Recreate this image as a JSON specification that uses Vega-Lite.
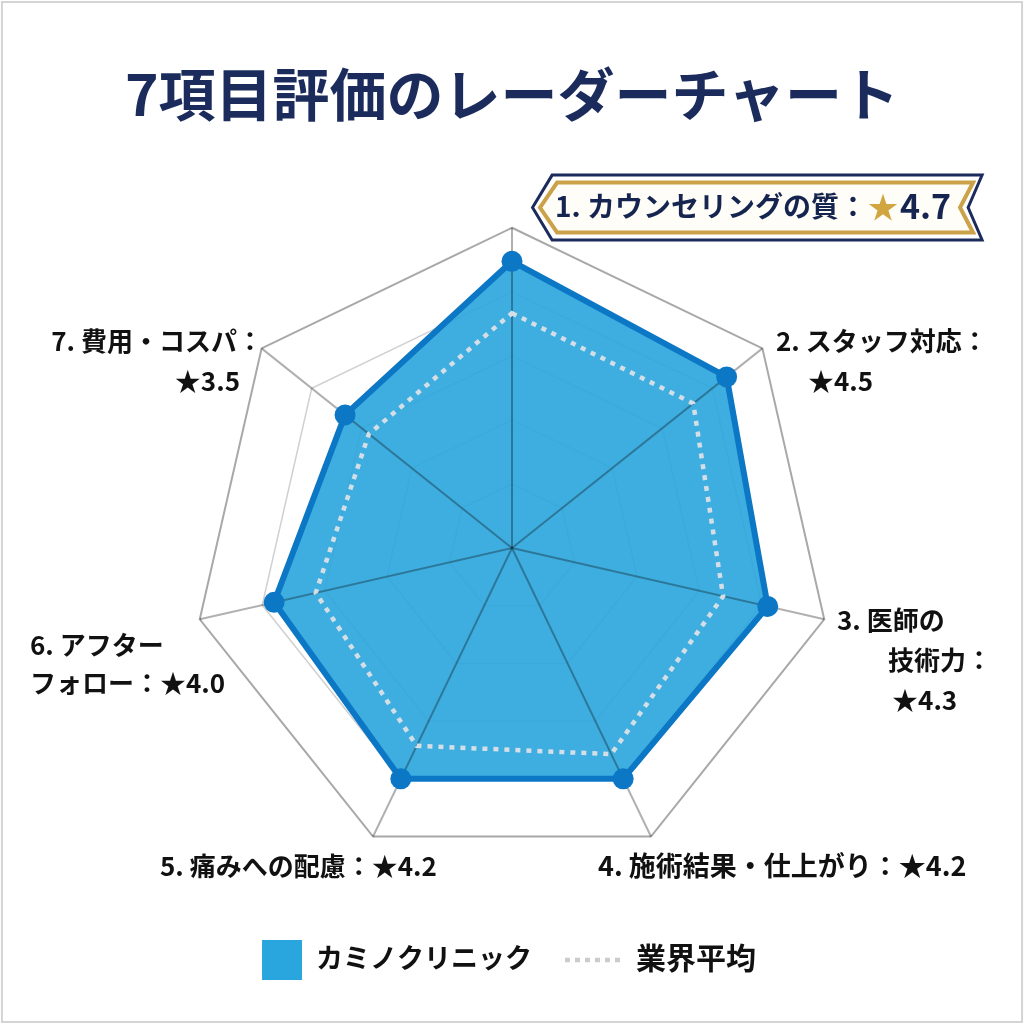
{
  "$schema": "https://vega.github.io/schema/vega-lite/v6.json",
  "width": 1024,
  "height": 1024,
  "autosize": {"type": "fit", "contains": "padding"},
  "padding": 0,
  "background": "white",
  "config": {
    "view": {"stroke": null},
    "axis": {"disable": true},
    "text": {"font": "Noto Sans CJK JP"}
  },
  "datasets": {
    "axes": [
      {"k": 0, "item": "カウンセリングの質", "score": 4.7, "avg": 3.85},
      {"k": 1, "item": "スタッフ対応", "score": 4.5, "avg": 3.8},
      {"k": 2, "item": "医師の技術力", "score": 4.3, "avg": 3.55},
      {"k": 3, "item": "施術結果・仕上がり", "score": 4.2, "avg": 3.75},
      {"k": 4, "item": "痛みへの配慮", "score": 4.2, "avg": 3.6},
      {"k": 5, "item": "アフターフォロー", "score": 4.0, "avg": 3.3},
      {"k": 6, "item": "費用・コスパ", "score": 3.5, "avg": 3.0}
    ],
    "rings": [
      {"level": 1.05, "ks": [0, 1, 2, 3, 4, 5, 6]},
      {"level": 2.1, "ks": [0, 1, 2, 3, 4, 5, 6]},
      {"level": 3.15, "ks": [0, 1, 2, 3, 4, 5, 6]},
      {"level": 4.2, "ks": [0, 1, 2, 3, 4, 5, 6]},
      {"level": 5.25, "ks": [0, 1, 2, 3, 4, 5, 6]}
    ],
    "one": [{"n": 1}]
  },
  "layer": [
    {
      "data": {"name": "one"},
      "mark": {"type": "rect", "fill": "white", "stroke": "#d4d4d4", "strokeWidth": 2},
      "encoding": {
        "x": {"datum": -8.361, "type": "quantitative", "scale": {"domain": [-8.393, 8.393], "nice": false, "zero": false}},
        "x2": {"datum": 8.361},
        "y": {"datum": 8.951, "type": "quantitative", "scale": {"domain": [-7.803, 8.984], "nice": false, "zero": false}},
        "y2": {"datum": -7.77}
      }
    },
    {
      "encoding": {
        "x": {"field": "x", "type": "quantitative"},
        "y": {"field": "y", "type": "quantitative"}
      },
      "layer": [
        {
          "data": {"name": "rings"},
          "transform": [
            {"flatten": ["ks"], "as": ["k"]},
            {"filter": "datum.level < 5"},
            {"calculate": "datum.k * 2 * PI / 7", "as": "t"},
            {"calculate": "datum.level * sin(datum.t)", "as": "x"},
            {"calculate": "datum.level * cos(datum.t)", "as": "y"}
          ],
          "mark": {"type": "line", "interpolate": "linear-closed", "stroke": "#d0d0d0", "strokeWidth": 1.5},
          "encoding": {"detail": {"field": "level"}, "order": {"field": "k"}}
        },
        {
          "data": {"name": "rings"},
          "transform": [
            {"flatten": ["ks"], "as": ["k"]},
            {"filter": "datum.level > 5"},
            {"calculate": "datum.k * 2 * PI / 7", "as": "t"},
            {"calculate": "datum.level * sin(datum.t)", "as": "x"},
            {"calculate": "datum.level * cos(datum.t)", "as": "y"}
          ],
          "mark": {"type": "line", "interpolate": "linear-closed", "stroke": "#a8a8a8", "strokeWidth": 2},
          "encoding": {"order": {"field": "k"}}
        },
        {
          "data": {"name": "axes"},
          "transform": [
            {"calculate": "datum.k * 2 * PI / 7", "as": "t"},
            {"calculate": "datum.score * sin(datum.t)", "as": "x"},
            {"calculate": "datum.score * cos(datum.t)", "as": "y"}
          ],
          "mark": {"type": "line", "interpolate": "linear-closed", "fill": "#29a5dd", "fillOpacity": 0.9, "stroke": "#0b77c5", "strokeWidth": 6, "strokeJoin": "round"},
          "encoding": {"order": {"field": "k"}}
        },
        {
          "data": {"name": "axes"},
          "transform": [
            {"calculate": "datum.k * 2 * PI / 7", "as": "t"},
            {"calculate": "5.25 * sin(datum.t)", "as": "x"},
            {"calculate": "5.25 * cos(datum.t)", "as": "y"}
          ],
          "mark": {"type": "rule", "stroke": "#b0b0b0", "strokeWidth": 2, "blend": "multiply"},
          "encoding": {"x2": {"datum": 0}, "y2": {"datum": 0}}
        },
        {
          "data": {"name": "axes"},
          "transform": [
            {"calculate": "datum.k * 2 * PI / 7", "as": "t"},
            {"calculate": "datum.avg * sin(datum.t)", "as": "x"},
            {"calculate": "datum.avg * cos(datum.t)", "as": "y"}
          ],
          "mark": {"type": "line", "interpolate": "linear-closed", "stroke": "#d4dee6", "strokeWidth": 4.5, "strokeDash": [5, 6]},
          "encoding": {"order": {"field": "k"}}
        },
        {
          "data": {"name": "axes"},
          "transform": [
            {"calculate": "datum.k * 2 * PI / 7", "as": "t"},
            {"calculate": "datum.score * sin(datum.t)", "as": "x"},
            {"calculate": "datum.score * cos(datum.t)", "as": "y"}
          ],
          "mark": {"type": "point", "filled": true, "shape": "circle", "size": 440, "color": "#0b77c5", "opacity": 1}
        }
      ]
    },
    {
      "data": {"name": "one"},
      "mark": {"type": "text", "text": "7項目評価のレーダーチャート", "align": "center", "baseline": "middle", "fontSize": 57, "fontWeight": "bold", "color": "#1b2b5c"},
      "encoding": {"x": {"datum": 0}, "y": {"datum": 7.36}}
    },
    {
      "data": {"name": "one"},
      "mark": {"type": "point", "filled": true, "shape": "M-1,0L-0.913,-0.144L0.998,-0.144L0.936,0L0.998,0.144L-0.913,0.144Z", "size": 202500, "fill": "white", "stroke": "#1b2b5c", "strokeWidth": 3, "opacity": 1},
      "encoding": {"x": {"datum": 4.025}, "y": {"datum": 5.582}}
    },
    {
      "data": {"name": "one"},
      "mark": {"type": "point", "filled": true, "shape": "M-0.967,0L-0.891,-0.111L0.958,-0.111L0.9,0L0.958,0.111L-0.891,0.111Z", "size": 202500, "fill": "#fffdf7", "stroke": "#cba24a", "strokeWidth": 4, "opacity": 1},
      "encoding": {"x": {"datum": 4.025}, "y": {"datum": 5.582}}
    },
    {
      "data": {"name": "one"},
      "mark": {"type": "text", "text": "1. カウンセリングの質：", "align": "right", "baseline": "middle", "fontSize": 28, "fontWeight": "bold", "color": "#15254f"},
      "encoding": {"x": {"datum": 5.82}, "y": {"datum": 5.557}}
    },
    {
      "data": {"name": "one"},
      "mark": {"type": "text", "text": "★", "align": "center", "baseline": "middle", "fontSize": 30, "fontWeight": "bold", "color": "#d1a640"},
      "encoding": {"x": {"datum": 6.082}, "y": {"datum": 5.557}}
    },
    {
      "data": {"name": "one"},
      "mark": {"type": "text", "text": "4.7", "align": "left", "baseline": "middle", "fontSize": 34, "fontWeight": "bold", "color": "#15254f"},
      "encoding": {"x": {"datum": 6.36}, "y": {"datum": 5.557}}
    },
    {
      "data": {"name": "one"},
      "mark": {"type": "text", "text": "2. スタッフ対応：", "align": "left", "baseline": "middle", "fontSize": 26, "fontWeight": "bold", "color": "#111111"},
      "encoding": {"x": {"datum": 4.328}, "y": {"datum": 3.361}}
    },
    {
      "data": {"name": "one"},
      "mark": {"type": "text", "text": "★4.5", "align": "left", "baseline": "middle", "fontSize": 26, "fontWeight": "bold", "color": "#111111"},
      "encoding": {"x": {"datum": 4.852}, "y": {"datum": 2.705}}
    },
    {
      "data": {"name": "one"},
      "mark": {"type": "text", "text": "3. 医師の", "align": "left", "baseline": "middle", "fontSize": 26, "fontWeight": "bold", "color": "#111111"},
      "encoding": {"x": {"datum": 5.328}, "y": {"datum": -1.213}}
    },
    {
      "data": {"name": "one"},
      "mark": {"type": "text", "text": "技術力：", "align": "left", "baseline": "middle", "fontSize": 26, "fontWeight": "bold", "color": "#111111"},
      "encoding": {"x": {"datum": 6.164}, "y": {"datum": -1.869}}
    },
    {
      "data": {"name": "one"},
      "mark": {"type": "text", "text": "★4.3", "align": "left", "baseline": "middle", "fontSize": 26, "fontWeight": "bold", "color": "#111111"},
      "encoding": {"x": {"datum": 6.23}, "y": {"datum": -2.525}}
    },
    {
      "data": {"name": "one"},
      "mark": {"type": "text", "text": "4. 施術結果・仕上がり：★4.2", "align": "left", "baseline": "middle", "fontSize": 27, "fontWeight": "bold", "color": "#111111"},
      "encoding": {"x": {"datum": 1.41}, "y": {"datum": -5.246}}
    },
    {
      "data": {"name": "one"},
      "mark": {"type": "text", "text": "5. 痛みへの配慮：★4.2", "align": "left", "baseline": "middle", "fontSize": 26, "fontWeight": "bold", "color": "#111111"},
      "encoding": {"x": {"datum": -5.77}, "y": {"datum": -5.246}}
    },
    {
      "data": {"name": "one"},
      "mark": {"type": "text", "text": "6. アフター", "align": "left", "baseline": "middle", "fontSize": 26, "fontWeight": "bold", "color": "#111111"},
      "encoding": {"x": {"datum": -7.902}, "y": {"datum": -1.623}}
    },
    {
      "data": {"name": "one"},
      "mark": {"type": "text", "text": "フォロー：★4.0", "align": "left", "baseline": "middle", "fontSize": 26, "fontWeight": "bold", "color": "#111111"},
      "encoding": {"x": {"datum": -7.902}, "y": {"datum": -2.246}}
    },
    {
      "data": {"name": "one"},
      "mark": {"type": "text", "text": "7. 費用・コスパ：", "align": "right", "baseline": "middle", "fontSize": 26, "fontWeight": "bold", "color": "#111111"},
      "encoding": {"x": {"datum": -4.082}, "y": {"datum": 3.361}}
    },
    {
      "data": {"name": "one"},
      "mark": {"type": "text", "text": "★3.5", "align": "right", "baseline": "middle", "fontSize": 26, "fontWeight": "bold", "color": "#111111"},
      "encoding": {"x": {"datum": -4.459}, "y": {"datum": 2.705}}
    },
    {
      "data": {"name": "one"},
      "mark": {"type": "point", "filled": true, "shape": "square", "size": 1600, "color": "#2aa6de", "opacity": 1},
      "encoding": {"x": {"datum": -3.77}, "y": {"datum": -6.754}}
    },
    {
      "data": {"name": "one"},
      "mark": {"type": "text", "text": "カミノクリニック", "align": "left", "baseline": "middle", "fontSize": 27, "fontWeight": "bold", "color": "#111111"},
      "encoding": {"x": {"datum": -3.213}, "y": {"datum": -6.754}}
    },
    {
      "data": {"name": "one"},
      "mark": {"type": "rule", "stroke": "#cccccc", "strokeWidth": 4.5, "strokeDash": [5, 5]},
      "encoding": {"x": {"datum": 0.869}, "x2": {"datum": 1.77}, "y": {"datum": -6.754}}
    },
    {
      "data": {"name": "one"},
      "mark": {"type": "text", "text": "業界平均", "align": "left", "baseline": "middle", "fontSize": 30, "fontWeight": "bold", "color": "#111111"},
      "encoding": {"x": {"datum": 2.033}, "y": {"datum": -6.754}}
    }
  ]
}
